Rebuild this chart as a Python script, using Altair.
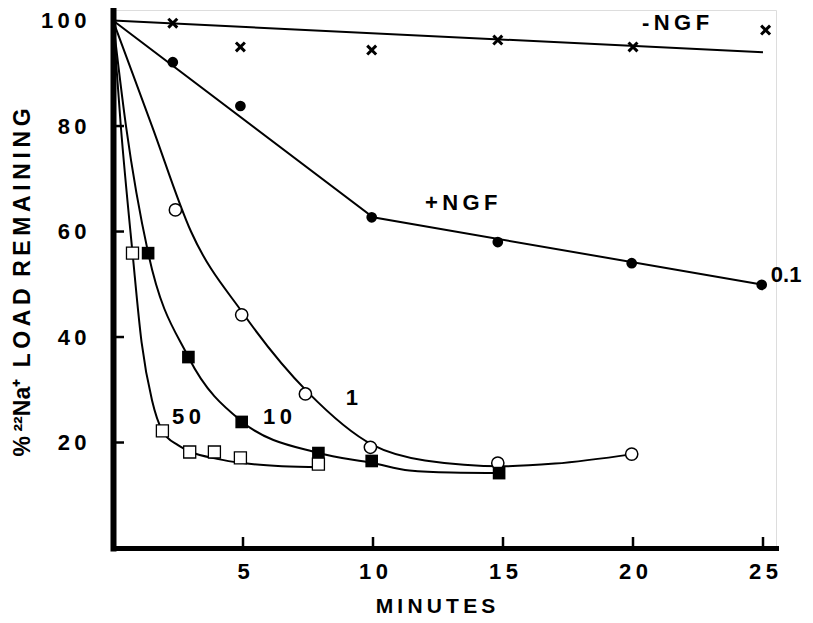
import altair as alt
import pandas as pd

TS = "\u2009"  # thin space used for the letter-spaced lettering
FONT = "Liberation Sans"

# ---- fitted lines ----
minus_line_x = [0, 25]
minus_line_y = [100, 94.0]
plus_line_x = [0, 10, 25]
plus_line_y = [100, 62.7, 49.9]

# ---- hand-drawn smooth curves ----
c1_x = [0, 1.5, 3.0, 5, 7.5, 10, 12, 15, 17, 20]
c1_y = [100, 80, 60, 44.5, 29.5, 19.5, 16.6, 15.5, 16.0, 17.8]
c10_x = [0, 0.5, 1.35, 2.9, 4.95, 7.9, 10, 11.4, 13, 15]
c10_y = [100, 80, 56, 36.2, 24.0, 18.0, 16.1, 14.7, 14.3, 14.2]
c50_x = [0, 0.3, 0.75, 1.1, 1.5, 1.9, 2.5, 3, 4, 5, 6.5, 8]
c50_y = [100, 80, 56, 39, 28, 22.2, 19.5, 18.2, 16.9, 16.1, 15.5, 15.3]

# ---- measured points ----
t_minus = [2.3, 4.9, 9.95, 14.8, 20.0, 25.1]
v_minus = [99.5, 95.0, 94.4, 96.3, 95.0, 98.2]
t_plus = [2.3, 4.9, 9.95, 14.8, 19.95, 24.95]
v_plus = [92.1, 83.8, 62.7, 58.0, 54.0, 49.9]
t_1 = [2.4, 4.95, 7.4, 9.9, 14.8, 19.95]
v_1 = [64.1, 44.2, 29.2, 19.1, 16.1, 17.8]
t_10 = [1.35, 2.9, 4.95, 7.9, 9.95, 14.85]
v_10 = [55.9, 36.2, 23.9, 18.0, 16.5, 14.2]
t_50 = [0.75, 1.9, 2.95, 3.9, 4.9, 7.9]
v_50 = [55.9, 22.2, 18.2, 18.2, 17.1, 15.9]

# ---- annotations ----
annot_text = ["-NGF", "+NGF", "0.1", "1", "10", "50"]
annot_x = [20.35, 12.0, 25.3, 8.95, 5.77, 2.27]
annot_y = [99.5, 65.4, 51.8, 28.4, 24.8, 24.8]

x_ticks = [5, 10, 15, 20, 25]
y_ticks = [20, 40, 60, 80]
y_labels = [20, 40, 60, 80, 100]

W, H = 663, 538
X_DOMAIN = [0, 25.5]
Y_DOMAIN = [0, 102]


def spaced(s, sep=TS):
    return sep.join(list(s))


label_expr = "join(split(datum.label, ''), '" + TS + "')"

x_axis = alt.Axis(
    values=x_ticks, ticks=False, grid=False,
    domainColor="black", domainWidth=5, domainCap="square",
    labelFont=FONT, labelFontWeight="bold", labelFontSize=22, labelColor="black",
    labelPadding=13, labelExpr=label_expr,
    title=spaced("MINUTES"), titleFont=FONT, titleFontWeight="bold", titleFontSize=21,
    titleColor="black", titleX=322, titleY=58, titleAlign="center", titleBaseline="middle",
)
y_axis = alt.Axis(
    values=y_labels, ticks=False, grid=False,
    domainColor="black", domainWidth=6, domainCap="square",
    labelFont=FONT, labelFontWeight="bold", labelFontSize=22, labelColor="black",
    labelPadding=27, labelExpr=label_expr,
    title="%" + TS + "²²Na⁺" + "\u2002" + spaced("LOAD") + "\u2002" + spaced("REMAINING"),
    titleFont=FONT, titleFontWeight="bold", titleFontSize=23, titleColor="black",
    titleX=-91, titleY=272, titleAngle=270, titleAlign="center", titleBaseline="middle",
)


def xe():
    return alt.X("t:Q", scale=alt.Scale(domain=X_DOMAIN, nice=False, zero=False), axis=x_axis)


def ye():
    return alt.Y("v:Q", scale=alt.Scale(domain=Y_DOMAIN, nice=False, zero=False), axis=y_axis)


def frame(xs, ys, name=None):
    d = pd.DataFrame({"t": xs, "v": ys})
    d["i"] = range(len(d))
    if name is not None:
        d["s"] = name
    return d


straight = pd.concat([frame(minus_line_x, minus_line_y, "minus"),
                      frame(plus_line_x, plus_line_y, "plus")])
curves = pd.concat([frame(c1_x, c1_y, "c1"), frame(c10_x, c10_y, "c10"),
                    frame(c50_x, c50_y, "c50")])

line_straight = alt.Chart(straight).mark_line(color="black", strokeWidth=2).encode(
    x=xe(), y=ye(), detail="s:N", order="i:Q")
line_curves = alt.Chart(curves).mark_line(color="black", strokeWidth=2, interpolate="monotone").encode(
    x=xe(), y=ye(), detail="s:N", order="i:Q")

pts_minus = alt.Chart(frame(t_minus, v_minus)).mark_point(
    shape="M-1,-1L1,1M-1,1L1,-1", size=80, strokeWidth=3, color="black", opacity=1
).encode(x=xe(), y=ye())
pts_plus = alt.Chart(frame(t_plus, v_plus)).mark_point(
    shape="circle", size=115, filled=True, color="black", opacity=1
).encode(x=xe(), y=ye())
pts_1 = alt.Chart(frame(t_1, v_1)).mark_point(
    shape="circle", size=150, filled=True, fill="white", stroke="black", strokeWidth=1.5, opacity=1
).encode(x=xe(), y=ye())
pts_10 = alt.Chart(frame(t_10, v_10)).mark_point(
    shape="square", size=160, filled=True, color="black", opacity=1
).encode(x=xe(), y=ye())
pts_50 = alt.Chart(frame(t_50, v_50)).mark_point(
    shape="square", size=145, filled=True, fill="white", stroke="black", strokeWidth=1.3, opacity=1
).encode(x=xe(), y=ye())

annots = pd.DataFrame({"t": annot_x, "v": annot_y,
                       "label": [spaced(s) if s != "0.1" else s for s in annot_text]})
text = alt.Chart(annots).mark_text(
    align="left", baseline="middle", font=FONT, fontWeight="bold", fontSize=22, color="black"
).encode(x=xe(), y=ye(), text="label:N")

xt = alt.Chart(pd.DataFrame({"t": x_ticks})).mark_rule(color="black", strokeWidth=2.5).encode(
    x=xe(), y=alt.value(H), y2=alt.value(H - 11))
yt = alt.Chart(pd.DataFrame({"v": y_ticks})).mark_rule(color="black", strokeWidth=2.5).encode(
    y=ye(), x=alt.value(0), x2=alt.value(11))

chart = alt.layer(
    line_straight, line_curves, pts_minus, pts_plus, pts_1, pts_10, pts_50, text, xt, yt
).properties(
    width=W, height=H,
    autosize=alt.AutoSizeParams(type="none"),
    padding={"left": 105, "top": 2, "right": 29, "bottom": 67},
).configure_view(stroke=None).configure(background="white")

chart.save("out.html", embed_options={"renderer": "svg", "actions": False})
